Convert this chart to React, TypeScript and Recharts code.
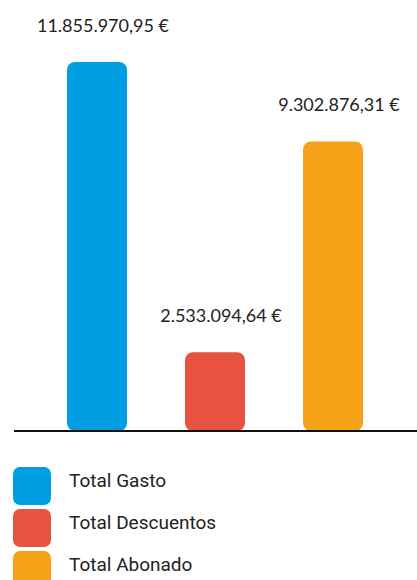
import { BarChart, Bar, XAxis, YAxis, Cell, LabelList } from "recharts";

const categories = ["Total Gasto", "Total Descuentos", "Total Abonado"];
const values = [11855970.95, 2533094.64, 9302876.31];
const colors = ["#009fe3", "#e85240", "#f5a219"];

const data = categories.map((name, i) => ({ name, value: values[i] }));

const fmt = (v: number) =>
  v.toLocaleString("de-DE", { minimumFractionDigits: 2, maximumFractionDigits: 2 }) + " €";

const ValueLabel = (props: any) => {
  const { x, y, width, value } = props;
  return (
    <text
      x={Number(x) + Number(width) / 2 + 6}
      y={Number(y) - 30}
      textAnchor="middle"
      fontFamily="Lato"
      fontSize={18}
      fill="#222"
    >
      {fmt(Number(value))}
    </text>
  );
};

export default function App() {
  return (
    <div style={{ position: "absolute", left: 0, top: 0, width: 417, height: 580, background: "#fff" }}>
      <BarChart
        width={417}
        height={450}
        data={data}
        margin={{ top: 62, right: 0, left: 14, bottom: 18 }}
      >
        <YAxis hide domain={[0, "dataMax"]} />
        <XAxis
          dataKey="name"
          tick={false}
          tickLine={false}
          height={1}
          axisLine={{ stroke: "#111", strokeWidth: 2 }}
          padding={{ left: 24, right: 25 }}
        />
        <Bar dataKey="value" barSize={60} radius={[8, 8, 8, 8]} isAnimationActive={false}>
          {data.map((d, i) => (
            <Cell key={d.name} fill={colors[i]} />
          ))}
          <LabelList dataKey="value" content={ValueLabel} />
        </Bar>
      </BarChart>
      <div style={{ position: "absolute", left: 13, top: 465 }}>
        {categories.map((c, i) => (
          <div key={c} style={{ display: "flex", alignItems: "center", height: 42 }}>
            <div style={{ width: 38, height: 38, borderRadius: 7, background: colors[i] }} />
            <span style={{ marginLeft: 18, fontFamily: "Roboto", fontSize: 19, color: "#222", lineHeight: "38px", marginTop: -10 }}>
              {c}
            </span>
          </div>
        ))}
      </div>
    </div>
  );
}
